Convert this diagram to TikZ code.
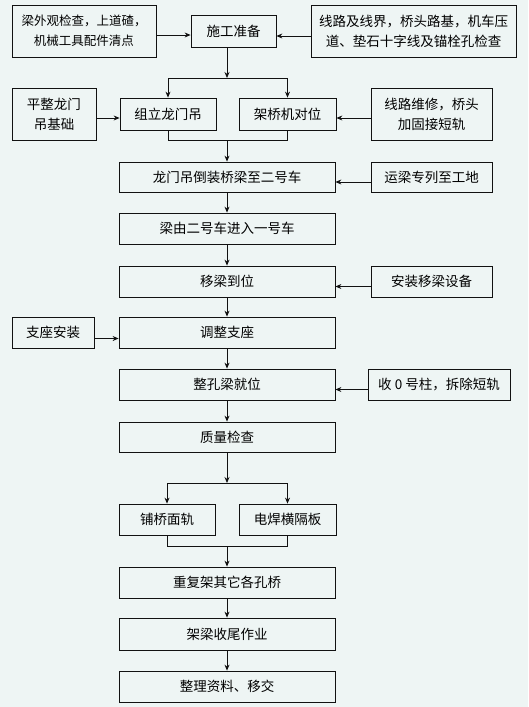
\documentclass[tikz,border=0pt]{standalone}
\usepackage{fontspec}
\setmainfont{Noto Sans CJK SC}
\usepackage{xcolor}
\definecolor{paperblue}{HTML}{EEF5F4}
\definecolor{inkblack}{HTML}{111111}
\usepackage{tikz}
\usetikzlibrary{arrows.meta}

\begin{document}
\begin{tikzpicture}[x=1pt, y=-1pt,
    flowbox/.style={draw=inkblack, line width=0.8pt, inner sep=0pt, align=center,
      minimum width=216pt, minimum height=31pt,
      font=\fontsize{13.5pt}{20pt}\selectfont},
    link/.style={draw=inkblack, line width=0.8pt, -{Stealth[length=6pt, width=5pt]}},
    wire/.style={draw=inkblack, line width=0.8pt}]
  % Background
  \fill[paperblue] (0,0) rectangle (528,707);
  \useasboundingbox (0,0) rectangle (528,707);
  % Top row
  \node[flowbox, minimum width=144pt, minimum height=52pt,
        font=\fontsize{12.5pt}{20pt}\selectfont] (inspect) at (84,31)
    {梁外观检查，上道碴，\\机械工具配件清点};
  \node[flowbox, minimum width=85pt, minimum height=32pt] (prep) at (233.5,31) {施工准备};
  \node[flowbox, minimum width=205pt, minimum height=52pt] (linechk) at (413.5,31)
    {线路及线界，桥头路基，机车压\\道、垫石十字线及锚栓孔检查};
  % Gantry and erecting machine
  \node[flowbox, minimum width=84pt, minimum height=52pt] (base) at (54,114) {平整龙门\\吊基础};
  \node[flowbox, minimum width=96pt, minimum height=32pt] (gantry) at (168,114) {组立龙门吊};
  \node[flowbox, minimum width=97pt, minimum height=32pt] (erect) at (287.5,114) {架桥机对位};
  \node[flowbox, minimum width=121pt, minimum height=52pt] (railfix) at (431.5,114)
    {线路维修，桥头\\加固接短轨};
  % Main column
  \node[flowbox, minimum height=30pt] (load) at (227,177) {龙门吊倒装桥梁至二号车};
  \node[flowbox, minimum width=121pt, minimum height=30pt] (train) at (431.5,177) {运梁专列至工地};
  \node[flowbox] (transfer) at (227,228.5) {梁由二号车进入一号车};
  \node[flowbox] (move) at (227,281.5) {移梁到位};
  \node[flowbox, minimum width=121pt] (device) at (431.5,281.5) {安装移梁设备};
  \node[flowbox] (adjust) at (227,332.5) {调整支座};
  \node[flowbox, minimum width=82pt] (seat) at (53,332.5) {支座安装};
  \node[flowbox] (place) at (227,384.5) {整孔梁就位};
  \node[flowbox, minimum width=142pt] (pillar) at (439,384.5) {收 0 号柱，拆除短轨};
  \node[flowbox, minimum height=30pt] (check) at (227,437) {质量检查};
  \node[flowbox, minimum width=96pt] (rail) at (167,519.5) {铺桥面轨};
  \node[flowbox, minimum width=97pt] (weld) at (287.5,519.5) {电焊横隔板};
  \node[flowbox] (others) at (227,582.5) {重复架其它各孔桥};
  \node[flowbox, minimum height=32pt] (finish) at (227,634) {架梁收尾作业};
  \node[flowbox] (handover) at (227,686.5) {整理资料、移交};
  % Branch points
  \coordinate (split1) at (227,78);
  \coordinate (merge1) at (227,140);
  \coordinate (split2) at (227,483);
  \coordinate (merge2) at (227,546);
  % Feeds into the preparation
  \draw[link] ([yshift=-4pt]inspect.east) -- ([yshift=-4pt]prep.west);
  \draw[link] ([yshift=-5pt]linechk.west) -- ([yshift=-5pt]prep.east);
  \draw[link] (prep.south -| split1) -- (split1);
  \draw[wire] (gantry.north |- split1) -- (erect.north |- split1);
  \draw[link] (gantry.north |- split1) -- (gantry.north);
  \draw[link] (erect.north |- split1) -- (erect.north);
  \draw[link] ([yshift=-4pt]base.east) -- ([yshift=-4pt]gantry.west);
  \draw[link] ([yshift=-4pt]railfix.west) -- ([yshift=-4pt]erect.east);
  \draw[wire] (gantry.south) -- (gantry.south |- merge1) -- (erect.south |- merge1) -- (erect.south);
  \draw[link] (merge1) -- (load.north);
  % Side inputs
  \draw[link] ([yshift=-5pt]train.west) -- ([yshift=-5pt]load.east);
  \draw[link] ([yshift=-5pt]device.west) -- ([yshift=-5pt]move.east);
  \draw[link] ([yshift=-6pt]seat.east) -- ([yshift=-6pt]adjust.west);
  \draw[link] ([yshift=-5pt]pillar.west) -- ([yshift=-5pt]place.east);
  % Main chain
  \foreach \a/\b in {load/transfer, transfer/move, move/adjust, adjust/place,
                     place/check, others/finish, finish/handover} {
    \draw[link] (\a.south) -- (\b.north);
  }
  % Rail and welding in parallel
  \draw[link] (check.south) -- (split2);
  \draw[wire] (rail.north |- split2) -- (weld.north |- split2);
  \draw[link] (rail.north |- split2) -- (rail.north);
  \draw[link] (weld.north |- split2) -- (weld.north);
  \draw[wire] (rail.south) -- (rail.south |- merge2) -- (weld.south |- merge2) -- (weld.south);
  \draw[link] (merge2) -- (others.north);
\end{tikzpicture}
\end{document}
